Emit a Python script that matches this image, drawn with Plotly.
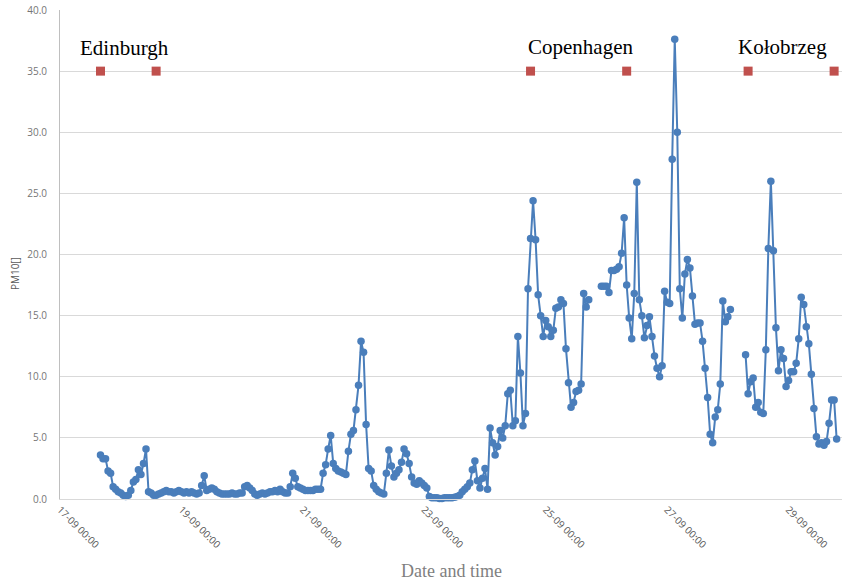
import plotly.graph_objects as go
import pandas as pd

# ---- data ----
series_start = "2019-09-17 16:00"   # first hourly PM10 reading
pm10_values = [
    # 17-09 16:00 ->
    3.6, 3.3, 3.3, 2.3, 2.1, 1.0, 0.8, 0.6, 0.5, 0.3, 0.2, 0.3, 0.7, 1.4, 1.6, 2.4, 2.0, 2.9, 4.1,
    0.6, 0.5, 0.3, 0.3, 0.4, 0.5, 0.6, 0.7, 0.6, 0.6, 0.5, 0.6, 0.7, 0.6, 0.5, 0.6, 0.5, 0.6, 0.5, 0.4, 0.5, 1.1,
    1.9, 0.7, 0.8, 0.9, 0.8, 0.6, 0.5, 0.4, 0.4, 0.4, 0.4, 0.5, 0.4, 0.4, 0.5, 0.5,
    1.0, 1.1, 0.9, 0.7, 0.4, 0.3, 0.4, 0.5, 0.4, 0.5, 0.6, 0.6, 0.7, 0.6, 0.8, 0.6, 0.5, 0.5, 1.0,
    2.1, 1.7, 1.0, 0.9, 0.8, 0.7, 0.7, 0.7, 0.7, 0.8, 0.8, 0.8,
    2.1, 2.8, 4.1, 5.2, 2.9, 2.5, 2.3, 2.2, 2.1, 2.0, 3.9, 5.3, 5.6, 7.3, 9.3, 12.9,
    12.0, 6.1, 2.5, 2.3, 1.1, 0.8, 0.6, 0.5, 0.4, 2.1, 4.0,
    2.7, 1.8, 2.1, 2.4, 3.0, 4.1, 3.7, 2.9, 1.8, 1.3, 1.2, 1.5, 1.3, 1.1, 0.9,
    0.2, 0.1, 0.1, 0.1, 0.05, 0.05, 0.1, 0.1, 0.1, 0.1, 0.15, 0.2,
    0.3, 0.6, 0.8, 1.0, 1.3, 2.4, 3.1, 1.5, 0.9, 1.7, 2.5, 0.8,
    5.8, 4.6, 3.6, 4.3, 5.6, 5.0, 6.0, 8.6, 8.9, 6.0, 6.4, 13.3, 10.3, 6.0, 7.0, 17.2, 21.3, 24.4, 21.2, 16.7,
    15.0, 13.3, 14.6, 14.1, 13.3, 13.8, 15.6, 15.7, 16.3, 16.0, 12.3, 9.5, 7.5, 7.9, 8.8, 8.9, 9.4, 16.8, 15.7, 16.3,
    None, None, None, None,
    17.4, 17.4, 17.4, 16.9, 18.7, 18.7, 18.8, 19.0, 20.1, 23.0, 17.5, 14.8, 13.1, 16.8, 25.9, 16.3, 15.0, 13.2,
    14.2, 14.9, 13.3, 11.7, 10.7, 10.0, 10.9, 17.0, 16.1, 16.0, 27.8, 37.6, 30.0, 17.2, 14.8, 18.4, 19.6, 18.9,
    16.6, 14.3, 14.4, 14.4, 12.9, 10.7, 8.3, 5.3, 4.6, 6.7, 7.3, 9.4, 16.2, 14.5, 14.9, 15.5,
    None, None, None, None, None,
    11.8, 8.6, 9.6, 9.9, 7.5, 7.9, 7.1, 7.0, 12.2, 20.5, 26.0, 20.3, 14.0, 10.5, 12.2, 11.5, 9.2, 9.7, 10.4,
    10.4, 11.1, 13.1, 16.5, 15.9, 14.1, 12.7, 10.2, 7.4, 5.1, 4.5, 4.6, 4.4, 4.7, 6.2, 8.1, 8.1, 4.9,
]
pm10_times = pd.date_range(series_start, periods=len(pm10_values), freq="h")

stay_times = ["2019-09-17 16:00", "2019-09-18 14:00",
              "2019-09-24 18:00", "2019-09-26 08:00",
              "2019-09-28 08:00", "2019-09-29 18:00"]
stay_values = [35, 35, 35, 35, 35, 35]

city_names = ["Edinburgh", "Copenhagen", "Kołobrzeg"]
city_label_times = ["2019-09-18 01:30", "2019-09-25 13:45", "2019-09-28 21:30"]
city_label_values = [36.9, 37.0, 37.0]

x_range = ["2019-09-17 00:00", "2019-09-29 21:07"]
y_range = [0, 40]

# ---- figure ----
fig = go.Figure()
fig.add_trace(go.Scatter(
    x=pm10_times, y=pm10_values, mode="lines+markers",
    line=dict(color="#4A7EBB", width=2),
    marker=dict(color="#4A7EBB", size=7.5),
    connectgaps=False, showlegend=False, cliponaxis=False,
))
fig.add_trace(go.Scatter(
    x=stay_times, y=stay_values, mode="markers",
    marker=dict(color="#C0504D", size=9, symbol="square"),
    showlegend=False,
))

for name, t, v in zip(city_names, city_label_times, city_label_values):
    fig.add_annotation(x=t, y=v, xref="x", yref="y", text=name, showarrow=False,
                       font=dict(family="Liberation Serif", size=21, color="#000000"),
                       xanchor="center", yanchor="middle")

fig.add_annotation(x=0.5, y=-0.147, xref="paper", yref="paper", text="Date and time",
                   showarrow=False, xanchor="center", yanchor="middle",
                   font=dict(family="Liberation Serif", size=18, color="#7F7F7F"))
fig.add_annotation(x=-0.0575, y=0.46, xref="paper", yref="paper", text="PM10[]",
                   showarrow=False, textangle=-90, xanchor="center", yanchor="middle",
                   font=dict(family="Open Sans", size=10, color="#595959"))

fig.update_layout(
    width=842, height=581,
    margin=dict(l=60, r=0, t=10, b=82),
    plot_bgcolor="white", paper_bgcolor="white",
    font=dict(family="Open Sans", size=10, color="#595959"),
)
fig.update_xaxes(
    type="date", range=x_range,
    tick0="2019-09-17", dtick=2 * 86400000, tickformat="%d-%m %H:%M",
    tickangle=45, showgrid=False, showline=True, linecolor="#D9D9D9", linewidth=1,
    ticks="", zeroline=False,
    tickfont=dict(family="Open Sans", size=10, color="#595959"),
)
fig.update_yaxes(
    range=y_range, dtick=5, tickformat=".1f",
    showgrid=True, gridcolor="#D9D9D9", gridwidth=1,
    showline=True, linecolor="#BFBFBF", linewidth=1,
    zeroline=False, ticks="", ticklabelstandoff=10,
    tickfont=dict(family="Open Sans", size=10, color="#757575"),
)

fig.write_html("out.html", config={"displayModeBar": False},
               post_script="document.body.style.margin='0px';document.body.style.overflow='hidden';")
